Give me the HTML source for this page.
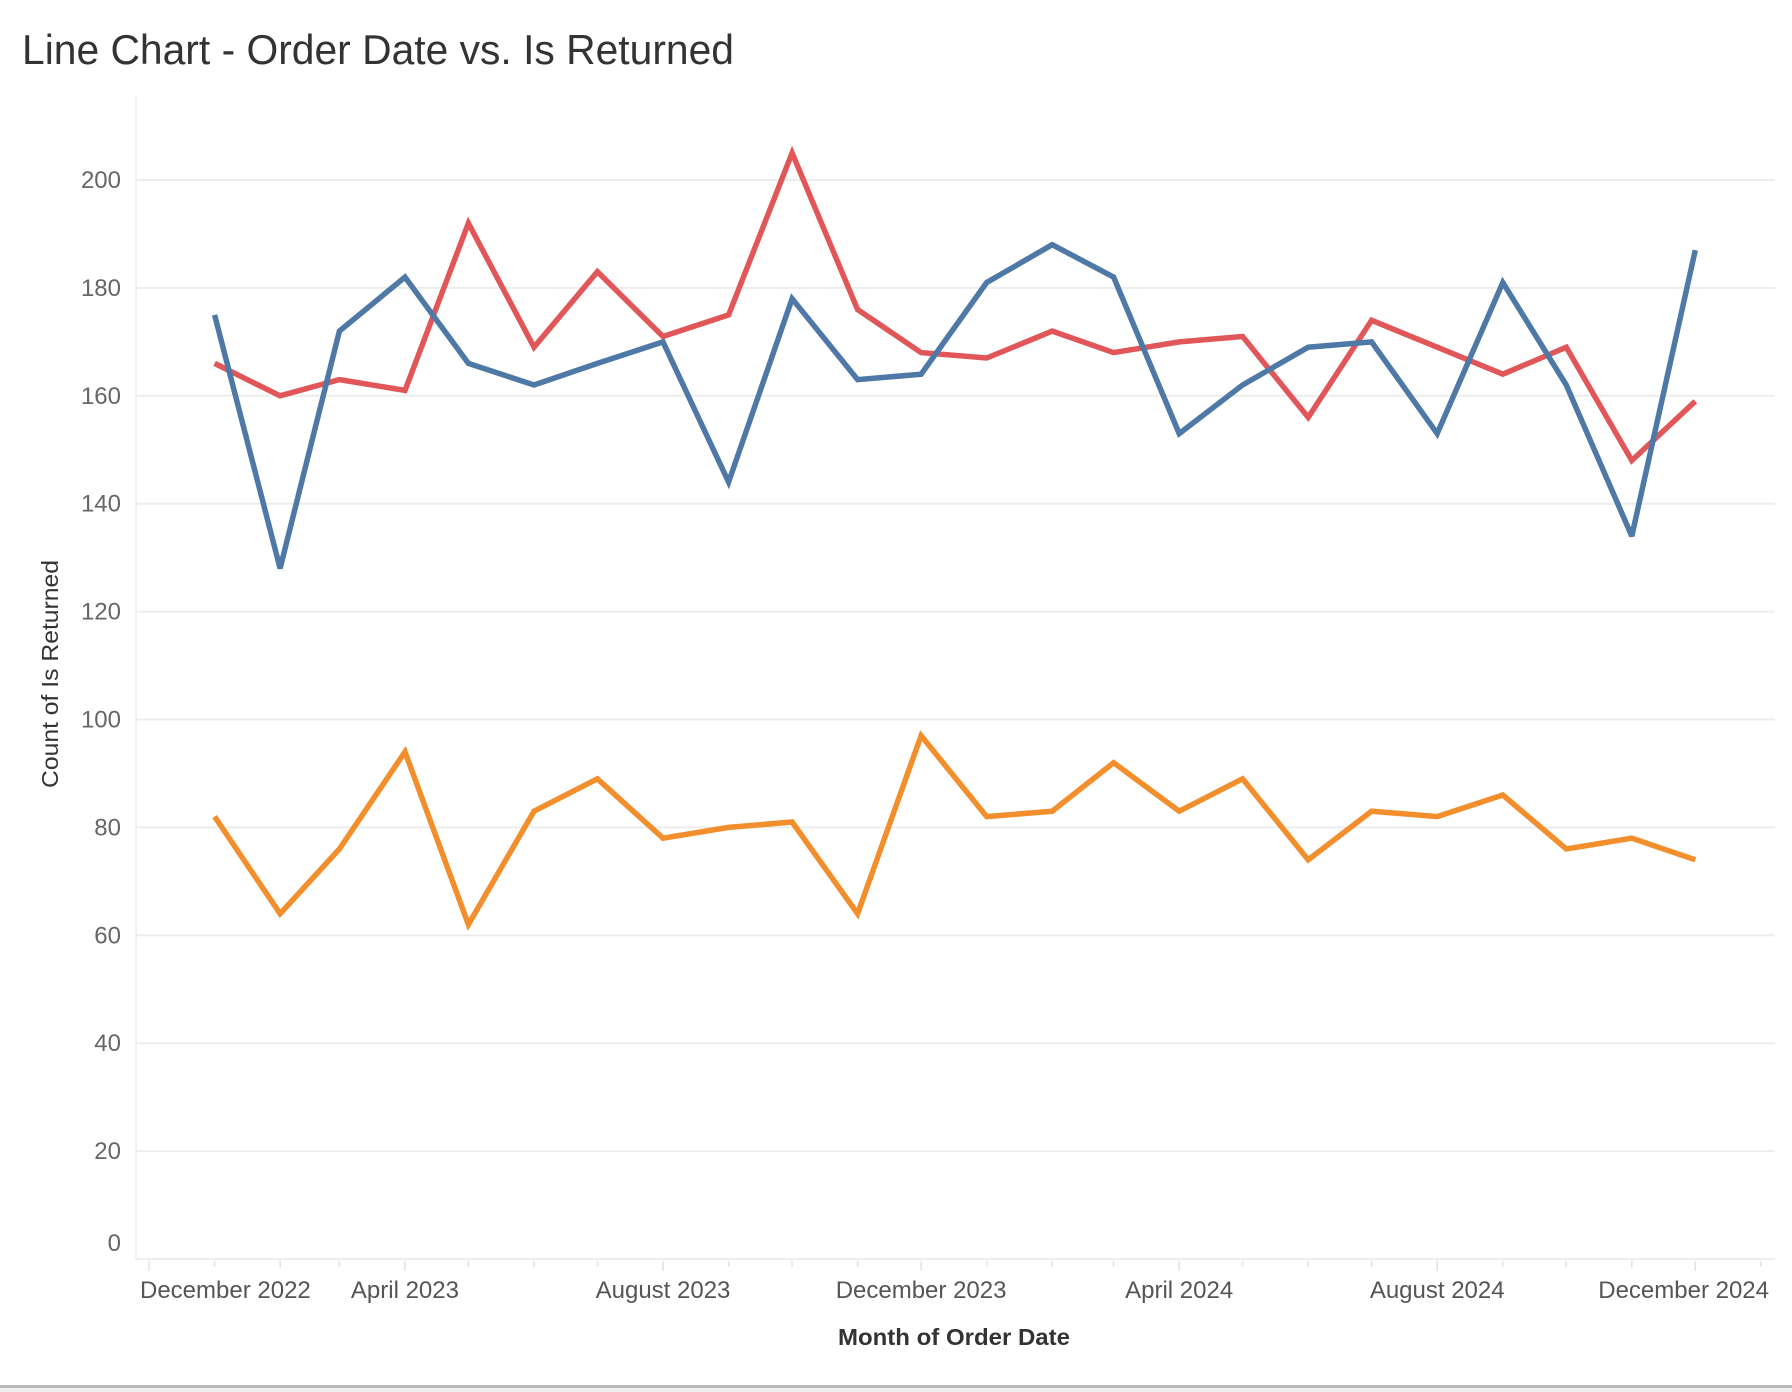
<!DOCTYPE html>
<html><head><meta charset="utf-8"><style>
html,body{margin:0;padding:0;background:#fff;width:1792px;height:1392px;overflow:hidden}
svg{display:block;font-family:"Liberation Sans",sans-serif}
</style></head><body>
<svg id="chart" width="1792" height="1392" viewBox="0 0 1792 1392" xmlns="http://www.w3.org/2000/svg">
<text x="22" y="64" font-size="42" fill="#333" textLength="712" lengthAdjust="spacingAndGlyphs">Line Chart - Order Date vs. Is Returned</text>
<g id="grid"></g>
<g id="axes"></g>
<g id="series"></g>
<text transform="translate(58,674) rotate(-90)" text-anchor="middle" font-size="23" fill="#333" textLength="228" lengthAdjust="spacingAndGlyphs">Count of Is Returned</text>
<text x="954" y="1345" text-anchor="middle" font-size="23" font-weight="bold" fill="#333" textLength="232" lengthAdjust="spacingAndGlyphs">Month of Order Date</text>
<rect x="0" y="1385" width="1792" height="3" fill="#b8b8b8"/>
<rect x="0" y="1388" width="1792" height="4" fill="#f0f0f0"/>
</svg>
<script>
const months = ["2023-01","2023-02","2023-03","2023-04","2023-05","2023-06","2023-07","2023-08","2023-09","2023-10","2023-11","2023-12","2024-01","2024-02","2024-03","2024-04","2024-05","2024-06","2024-07","2024-08","2024-09","2024-10","2024-11","2024-12"];
const blueValues = [175,128,172,182,166,162,166,170,144,178,163,164,181,188,182,153,162,169,170,153,181,162,134,187];
const redValues = [166,160,163,161,192,169,183,171,175,205,176,168,167,172,168,170,171,156,174,169,164,169,148,159];
const orangeValues = [82,64,76,94,62,83,89,78,80,81,64,97,82,83,92,83,89,74,83,82,86,76,78,74];
const yTicks = [0,20,40,60,80,100,120,140,160,180,200];
const xTickLabels = ["December 2022","April 2023","August 2023","December 2023","April 2024","August 2024","December 2024"];
const xTickDates = ["2022-12","2023-04","2023-08","2023-12","2024-04","2024-08","2024-12"];

const NS = "http://www.w3.org/2000/svg";
const plotL = 136, plotR = 1775, y0px = 1259, pxPerUnit = 5.395;
const base = Date.UTC(2022,11,1), x0 = 149, pxPerDay = 2.1153;
function yScale(v){ return y0px - v*pxPerUnit; }
function xScale(m){ const [y,mo] = m.split("-").map(Number); return x0 + (Date.UTC(y,mo-1,1)-base)/86400000*pxPerDay; }
function mk(tag, attrs, parent){ const e=document.createElementNS(NS,tag); for(const k in attrs) e.setAttribute(k,attrs[k]); parent.appendChild(e); return e; }

const grid = document.getElementById("grid"), axes = document.getElementById("axes"), series = document.getElementById("series");
yTicks.forEach(v=>{
  const y = yScale(v);
  const gl = mk("line",{x1:plotL,x2:plotR,y1:y,y2:y,stroke:"#ededed","stroke-width":2},grid);
  
  
  const t = mk("text",{x:121,y:(v===0? y-8 : y+8),"text-anchor":"end","font-size":24,fill:"#666"},axes);
  t.textContent = v;
  
  
});
const ax = mk("line",{x1:plotL,x2:plotL,y1:97,y2:y0px+2,stroke:"#eeeeee","stroke-width":1.5},axes);


for(let i=0;i<=25;i++){
  const d = new Date(Date.UTC(2022,11+i,1));
  const m = d.getUTCFullYear()+"-"+String(d.getUTCMonth()+1).padStart(2,"0");
  const x = xScale(m);
  if(x>plotR) break;
  const major = xTickDates.includes(m);
  const tk = mk("line",{x1:x,x2:x,y1:1261,y2:major?1271:1267,stroke:"#e2e2e2","stroke-width":1.5},axes);
  
  
}
xTickLabels.forEach((lab,i)=>{
  const x = xScale(xTickDates[i]);
  let anchor="middle", px=x;
  if(i===0){anchor="start";px=140;}
  if(i===xTickLabels.length-1){anchor="end";px=1769;}
  const t = mk("text",{x:px,y:1298,"text-anchor":anchor,"font-size":24,fill:"#555"},axes);
  t.textContent = lab;
  
  
});
function drawLine(vals,color,name){
  const pts = vals.map((v,i)=>xScale(months[i]).toFixed(1)+","+yScale(v).toFixed(1)).join(" ");
  const p = mk("polyline",{points:pts,fill:"none",stroke:color,"stroke-width":5.5,"stroke-linejoin":"miter","stroke-miterlimit":3},series);
  
  
}
drawLine(redValues,"#e15759","series-red-line");
drawLine(blueValues,"#4e79a7","series-blue-line");
drawLine(orangeValues,"#f28e2b","series-orange-line");
</script>
</body></html>
